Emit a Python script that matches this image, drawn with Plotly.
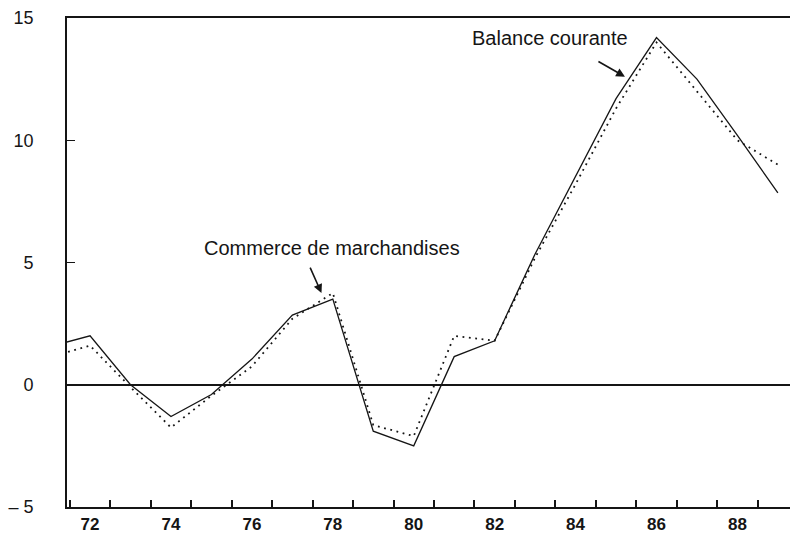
import plotly.graph_objects as go

years = list(range(71, 90))
balance_courante = [1.56, 2.0, 0.0, -1.3, -0.4, 1.05, 2.85, 3.5, -1.9, -2.5,
                    1.15, 1.8, 5.35, 8.5, 11.7, 14.2, 12.5, 10.2, 7.85]
commerce_marchandises = [1.13, 1.6, -0.1, -1.75, -0.45, 0.75, 2.7, 3.75, -1.65, -2.1,
                         2.0, 1.8, 5.2, 8.2, 11.3, 14.0, 12.0, 10.0, 9.0]

x_label_vals = [72, 74, 76, 78, 80, 82, 84, 86, 88]
x_label_text = ["72", "74", "76", "78", "80", "82", "84", "86", "88"]
y_tick_vals = [-5, 0, 5, 10, 15]
y_tick_text = ["\u2013 5", "0", "5", "10", "15"]

INK = "#151515"
FONT = "Liberation Sans, Arial, sans-serif"

fig = go.Figure()
fig.add_trace(go.Scatter(
    x=years, y=commerce_marchandises, mode="lines",
    line=dict(color=INK, width=1.8, dash="1.8px,4.6px"),
    name="Commerce de marchandises", showlegend=False, hoverinfo="skip"))
fig.add_trace(go.Scatter(
    x=years, y=balance_courante, mode="lines",
    line=dict(color=INK, width=1.3),
    name="Balance courante", showlegend=False, hoverinfo="skip"))

# labels with arrows
fig.add_annotation(x=83.37, y=14.2, text="Balance courante", showarrow=False,
                   font=dict(family=FONT, size=20, color=INK))
fig.add_annotation(x=85.22, y=12.6, ax=-28, ay=-16, text="", showarrow=True,
                   arrowhead=2, arrowsize=1.1, arrowwidth=1.6, arrowcolor=INK)
fig.add_annotation(x=77.97, y=5.61, text="Commerce de marchandises", showarrow=False,
                   font=dict(family=FONT, size=20, color=INK))
fig.add_annotation(x=77.72, y=3.75, ax=-12, ay=-27, text="", showarrow=True,
                   arrowhead=2, arrowsize=1.1, arrowwidth=1.6, arrowcolor=INK)

fig.update_layout(
    width=793, height=535,
    margin=dict(l=67, r=3, t=18, b=28, autoexpand=False),
    paper_bgcolor="white", plot_bgcolor="white",
    showlegend=False,
    xaxis=dict(
        range=[71.43, 89.3], showgrid=False, zeroline=False, automargin=False,
        showline=True, linecolor=INK, linewidth=1.6, mirror=True,
        tickmode="array", tickvals=x_label_vals, ticktext=x_label_text,
        ticks="", ticklabelstandoff=1,
        tickfont=dict(family=FONT, size=17, color=INK, weight="bold"),
        minor=dict(tick0=72.5, dtick=1, ticks="inside", ticklen=7,
                   tickwidth=1.5, tickcolor=INK, showgrid=False),
    ),
    yaxis=dict(
        range=[-5, 15], showgrid=False, automargin=False,
        zeroline=True, zerolinecolor=INK, zerolinewidth=1.5,
        showline=True, linecolor=INK, linewidth=1.6,
        tickmode="array", tickvals=y_tick_vals, ticktext=y_tick_text,
        ticks="inside", ticklen=8, tickwidth=1.4, tickcolor=INK,
        ticklabelstandoff=28,
        tickfont=dict(family=FONT, size=18, color=INK),
    ),
)

fig.write_html(
    "out.html",
    config={"displayModeBar": False},
    post_script="document.body.style.margin='0';document.body.style.overflow='hidden';",
)
